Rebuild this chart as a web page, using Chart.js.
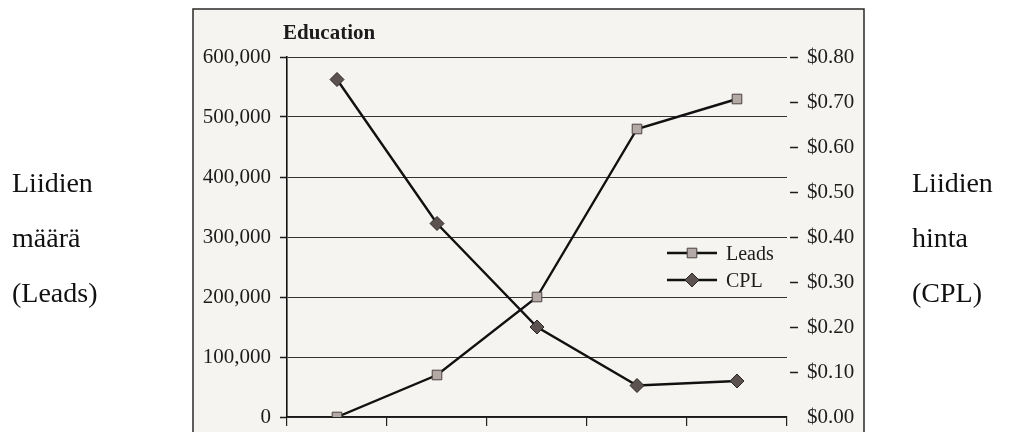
<!DOCTYPE html>
<html>
<head>
<meta charset="utf-8">
<script src="https://cdn.jsdelivr.net/npm/chart.js@4.4.1/dist/chart.umd.min.js"></script>
<style>
  html, body { margin: 0; padding: 0; background: #ffffff; overflow: hidden; }
  canvas { display: block; }
</style>
</head>
<body>
<canvas id="chart" width="1011" height="432"></canvas>
<script>
// Campaign steps along the x axis
const categories = ['1', '2', '3', '4', '5'];
// Number of leads per step (left axis)
const leads = [0, 70000, 200000, 480000, 530000];
// Cost per lead per step, in dollars (right axis)
const cpl = [0.75, 0.43, 0.20, 0.07, 0.08];
// Tick values of both value axes
const leadTicks = [0, 100000, 200000, 300000, 400000, 500000, 600000];
const cplTicks = [0, 0.1, 0.2, 0.3, 0.4, 0.5, 0.6, 0.7, 0.8];
// Texts
const chartTitle = 'Education';
const leftCaption = ['Liidien', 'määrä', '(Leads)'];
const rightCaption = ['Liidien', 'hinta', '(CPL)'];

const SERIF = '"Liberation Serif", "Times New Roman", serif';
const INK = '#1c1c1c';

// Page background plus the boxed panel the chart sits in
const panelPlugin = {
  id: 'panel',
  beforeDraw(chart) {
    const { ctx, width, height } = chart;
    ctx.save();
    ctx.fillStyle = '#ffffff';
    ctx.fillRect(0, 0, width, height);
    ctx.fillStyle = '#f5f4f1';
    ctx.fillRect(193, 9, 671, height);
    ctx.strokeStyle = '#2a2a2a';
    ctx.lineWidth = 1.5;
    ctx.strokeRect(193, 9, 671, height + 10);
    ctx.restore();
  }
};

// Title, inline legend and the two side captions
const annotationsPlugin = {
  id: 'annotations',
  afterDraw(chart) {
    const { ctx, chartArea } = chart;
    ctx.save();
    ctx.fillStyle = INK;
    ctx.textAlign = 'left';
    ctx.textBaseline = 'alphabetic';

    ctx.font = 'bold 21px ' + SERIF;
    ctx.fillText(chartTitle, chartArea.left - 4, 39);

    ctx.font = '28px ' + SERIF;
    ctx.fillStyle = '#111111';
    leftCaption.forEach((t, i) => ctx.fillText(t, 12, 192 + i * 55));
    rightCaption.forEach((t, i) => ctx.fillText(t, 912, 192 + i * 55));

    // legend entries: line + marker + label
    chart.data.datasets.forEach((ds, i) => {
      const y = 253 + i * 27;
      ctx.strokeStyle = ds.borderColor;
      ctx.lineWidth = ds.borderWidth;
      ctx.beginPath();
      ctx.moveTo(667, y);
      ctx.lineTo(717, y);
      ctx.stroke();
      ctx.fillStyle = ds.pointBackgroundColor;
      ctx.strokeStyle = ds.pointBorderColor;
      ctx.lineWidth = ds.pointBorderWidth;
      Chart.helpers.drawPoint(ctx, {
        pointStyle: ds.pointStyle,
        radius: ds.pointRadius,
        rotation: 0,
        borderWidth: ds.pointBorderWidth
      }, 692, y);
      ctx.fillStyle = INK;
      ctx.font = '20px ' + SERIF;
      ctx.fillText(ds.label, 726, y + 7);
    });
    ctx.restore();
  }
};

// value axes: fixed width and no extra label padding above/below the plot
function fixAxis(width) {
  return scale => {
    scale.width = width;
    scale.paddingTop = 0;
    scale.paddingBottom = 0;
  };
}

new Chart(document.getElementById('chart'), {
  type: 'line',
  data: {
    labels: categories,
    datasets: [
      {
        label: 'Leads',
        data: leads,
        yAxisID: 'y',
        borderColor: '#111111',
        borderWidth: 2.4,
        tension: 0,
        pointStyle: 'rect',
        pointRadius: 6.8,
        pointBackgroundColor: '#b3a9a5',
        pointBorderColor: '#4a4141',
        pointBorderWidth: 1
      },
      {
        label: 'CPL',
        data: cpl,
        yAxisID: 'y1',
        borderColor: '#111111',
        borderWidth: 2.4,
        tension: 0,
        pointStyle: 'rectRot',
        pointRadius: 7,
        pointBackgroundColor: '#5c5350',
        pointBorderColor: '#2c2626',
        pointBorderWidth: 1
      }
    ]
  },
  options: {
    responsive: false,
    animation: false,
    events: [],
    layout: { padding: { top: 57, left: 0, right: 0, bottom: 0 } },
    plugins: {
      legend: { display: false },
      tooltip: { enabled: false },
      title: { display: false }
    },
    scales: {
      x: {
        type: 'category',
        offset: true,
        grid: {
          offset: true,
          drawOnChartArea: false,
          drawTicks: true,
          tickLength: 9,
          color: '#222222',
          lineWidth: 1.2
        },
        border: { display: true, color: '#1a1a1a', width: 1.5 },
        ticks: { display: false },
        afterFit(scale) { scale.height = 15; }
      },
      y: {
        position: 'left',
        min: 0,
        max: 600000,
        afterBuildTicks(scale) { scale.ticks = leadTicks.map(v => ({ value: v })); },
        ticks: {
          color: INK,
          font: { family: SERIF, size: 21 },
          padding: 9,
          callback: v => v.toLocaleString('en-US')
        },
        grid: {
          color: '#333333',
          lineWidth: 1,
          tickLength: 7,
          tickColor: '#1a1a1a',
          tickWidth: 1.5
        },
        border: { display: true, color: '#111111', width: 1.6 },
        afterFit: fixAxis(287)
      },
      y1: {
        position: 'right',
        min: 0,
        max: 0.8,
        afterBuildTicks(scale) { scale.ticks = cplTicks.map(v => ({ value: v })); },
        ticks: {
          color: INK,
          font: { family: SERIF, size: 21 },
          padding: 9,
          callback: v => '$' + Number(v).toFixed(2)
        },
        grid: {
          drawOnChartArea: false,
          drawTicks: true,
          tickLength: 11,
          tickWidth: 1.5,
          tickBorderDash: [0, 3, 8, 100],
          tickColor: ctx => (ctx.tick && ctx.tick.value === 0) ? 'rgba(0,0,0,0)' : INK
        },
        border: { display: false },
        afterFit: fixAxis(224)
      }
    }
  },
  plugins: [panelPlugin, annotationsPlugin]
});
</script>
</body>
</html>
